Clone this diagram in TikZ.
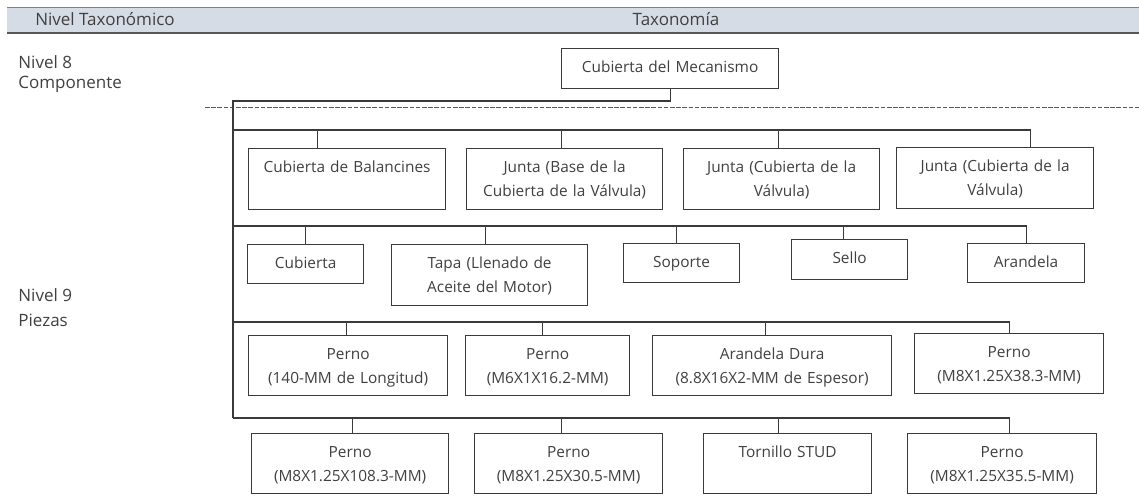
\documentclass[tikz,border=0pt]{standalone}
\usepackage{fontspec}
\setmainfont{Open Sans}
\usepackage{tikz}
\usetikzlibrary{positioning,calc}
\definecolor{hdrfill}{HTML}{D6DCE5}
\definecolor{linegray}{HTML}{3A3A3A}
\definecolor{txtgray}{HTML}{404040}

\begin{document}
\begin{tikzpicture}[x=0.5pt, y=-0.5pt,
    part/.style 2 args={draw=linegray, line width=0.6pt, anchor=north west,
        inner sep=0pt, align=center, text=txtgray,
        font=\fontsize{7.7}{12}\selectfont,
        text width=#1pt, text height=12pt, text depth=#2pt},
    lvl/.style={anchor=base west, inner sep=0pt, text=txtgray,
        font=\fontsize{8.5}{10}\selectfont},
    link/.style={draw=linegray, line width=0.6pt},
    sepline/.style={draw=linegray!85, line width=0.5pt, dash pattern=on 2.3pt off 0.8pt}]
    \useasboundingbox (0,0) rectangle (1139,502);

    % Header band
    \fill[hdrfill] (7,7) rectangle (1139,33);
    \draw[gray, line width=0.4pt] (7,7) -- (1139,7);
    \draw[linegray!85, line width=1pt] (7,33) -- (1139,33);
    \node[lvl, anchor=base] (hdrl) at (105,26) {Nivel Taxonómico};
    \node[lvl, anchor=base] (hdrr) at (676,26) {Taxonomía};

    % Level names
    \node[lvl] (n8) at (18,69) {Nivel 8};
    \node[lvl] (n8c) at (18,89) {Componente};
    \node[lvl] (n9) at (18,301) {Nivel 9};
    \node[lvl] (n9p) at (18,326) {Piezas};

    % Level 8 / level 9 border
    \draw[sepline] (205,108) -- (1139,108);

    % Component
    \node[part={108.5}{8}] (mec) at (561,48) {Cubierta del Mecanismo};

    % Parts, row 1
    \node[part={98.5}{18.5}] (b11) at (248,148) {Cubierta de Balancines};
    \node[part={98}{18.5}] (b12) at (466,148) {Junta (Base de la\\Cubierta de la Válvula)};
    \node[part={98}{18.5}] (b13) at (683,148) {Junta (Cubierta de la\\Válvula)};
    \node[part={98.5}{18.5}] (b14) at (896,147) {Junta (Cubierta de la\\Válvula)};

    % Parts, row 2
    \node[part={58}{7.5}] (b21) at (247,244) {Cubierta};
    \node[part={98}{18.5}] (b22) at (391,244) {Tapa (Llenado de\\Aceite del Motor)};
    \node[part={58}{7.5}] (b23) at (623,243) {Soporte};
    \node[part={58}{8}] (b24) at (791,239) {Sello};
    \node[part={58.5}{7.5}] (b25) at (967,243) {Arandela};

    % Parts, row 3
    \node[part={99.5}{18}] (b31) at (248,335) {Perno\\(140-MM de Longitud)};
    \node[part={82}{18}] (b32) at (465,335) {Perno\\(M6X1X16.2-MM)};
    \node[part={119.5}{18}] (b33) at (652,335) {Arandela Dura\\(8.8X16X2-MM de Espesor)};
    \node[part={94.5}{18}] (b34) at (914,333) {Perno\\(M8X1.25X38.3-MM)};

    % Parts, row 4
    \node[part={98.5}{18}] (b41) at (251,433) {Perno\\(M8X1.25X108.3-MM)};
    \node[part={94}{18}] (b42) at (474,433) {Perno\\(M8X1.25X30.5-MM)};
    \node[part={84}{18}] (b43) at (703,433) {Tornillo STUD};
    \node[part={94.5}{18}] (b44) at (907,433) {Perno\\(M8X1.25X35.5-MM)};

    % Spine and buses
    \coordinate (top) at (233,101);
    \coordinate (r1) at (233,130);
    \coordinate (r2) at (233,226);
    \coordinate (r3) at (233,322);
    \coordinate (r4) at (233,418);
    \draw[link] (mec.south) |- (top) -- (r4);
    \foreach \bus/\nd/\dx in {r1/b11/-15, r1/b12/-1.5, r1/b13/-1.5, r1/b14/17.5,
                              r2/b21/0, r2/b22/-2, r2/b23/-2.5, r2/b24/-3, r2/b25/0,
                              r3/b31/-1, r3/b32/-2.5, r3/b33/-3.5, r3/b34/0,
                              r4/b41/1, r4/b42/-3.5, r4/b43/-4.5, r4/b44/3.5}
        \draw[link] (\bus) -| ([xshift=\dx pt]\nd.north);
\end{tikzpicture}
\end{document}
